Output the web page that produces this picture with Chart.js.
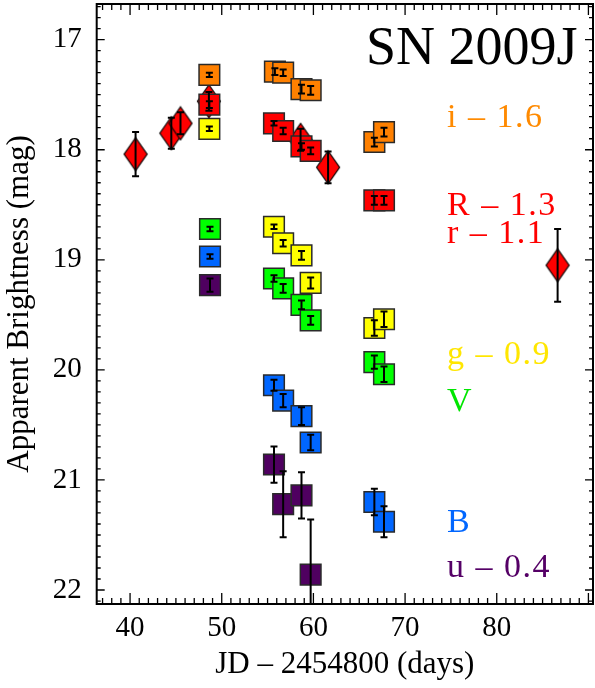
<!DOCTYPE html>
<html>
<head>
<meta charset="utf-8">
<script src="https://cdn.jsdelivr.net/npm/chart.js@4"></script>
<style>
  html, body { margin: 0; padding: 0; background: #fff; }
  #wrap { width: 595px; height: 688px; }
</style>
</head>
<body>
<div id="wrap"><canvas id="chart" width="595" height="688"></canvas></div>
<script>
// light curve of SN 2009J, magnitudes already shifted by the offsets in the labels
const jd_i = [48.65, 55.8, 56.7, 58.7, 59.7, 66.65, 67.7];
const mag_i = [17.32, 17.29, 17.30, 17.45, 17.46, 17.93, 17.84];
const err_i = [0.02, 0.03, 0.03, 0.04, 0.04, 0.04, 0.04];

const jd_R = [48.65, 55.7, 56.7, 58.7, 59.7, 66.65, 67.7];
const mag_R = [17.59, 17.76, 17.83, 17.97, 18.01, 18.46, 18.46];
const err_R = [0.03, 0.02, 0.03, 0.03, 0.03, 0.04, 0.04];

const jd_r = [40.6, 44.5, 45.5, 48.6, 58.6, 61.6, 86.64];
const mag_r = [18.04, 17.85, 17.76, 17.56, 17.91, 18.16, 19.05];
const err_r = [0.2, 0.14, 0.1, 0.085, 0.1, 0.145, 0.33];

const jd_g = [48.65, 55.7, 56.7, 58.7, 59.7, 66.65, 67.7];
const mag_g = [17.81, 18.70, 18.85, 18.96, 19.21, 19.62, 19.54];
const err_g = [0.02, 0.02, 0.03, 0.04, 0.05, 0.07, 0.07];

const jd_V = [48.72, 55.7, 56.7, 58.7, 59.7, 66.65, 67.7];
const mag_V = [18.72, 19.17, 19.26, 19.41, 19.55, 19.93, 20.04];
const err_V = [0.02, 0.03, 0.04, 0.04, 0.04, 0.06, 0.07];

const jd_B = [48.72, 55.7, 56.7, 58.7, 59.7, 66.65, 67.7];
const mag_B = [18.97, 20.14, 20.28, 20.42, 20.66, 21.20, 21.38];
const err_B = [0.02, 0.05, 0.06, 0.08, 0.07, 0.12, 0.14];

const jd_u = [48.72, 55.7, 56.7, 58.7, 59.7];
const mag_u = [19.23, 20.86, 21.22, 21.14, 21.86];
const err_u = [0.06, 0.165, 0.3, 0.21, 0.5];

const xTicks = [40, 50, 60, 70, 80];
const yTicks = [17, 18, 19, 20, 21, 22];

const serif = "'Liberation Serif', 'DejaVu Serif', serif";

function pts(xs, ys) {
  return xs.map((v, i) => ({ x: v, y: ys[i] }));
}

// tall red diamond marker
function diamond(color) {
  const c = document.createElement('canvas');
  c.width = 26; c.height = 36;
  const g = c.getContext('2d');
  g.beginPath();
  g.moveTo(13, 1.5); g.lineTo(24.5, 18); g.lineTo(13, 34.5); g.lineTo(1.5, 18);
  g.closePath();
  g.fillStyle = color; g.fill();
  g.strokeStyle = '#000'; g.lineWidth = 1.2; g.stroke();
  return c;
}

function squares(xs, ys, errs, color) {
  return {
    data: pts(xs, ys), errors: errs,
    showLine: false, pointStyle: 'rect', pointRadius: 14.6,
    backgroundColor: color, borderColor: '#2a2a2a', borderWidth: 1.5
  };
}

// no extra room for the end labels, the frame fills the canvas
function noPad(s) {
  s.paddingTop = 0; s.paddingBottom = 0;
  s.paddingLeft = 0; s.paddingRight = 0;
}

const labels = [
  { text: 'SN 2009J', color: '#000', size: 54, x: 366, y: 64 },
  { text: 'i \u2013 1.6', color: '#ff8a00', size: 34, x: 447, y: 127 },
  { text: 'R \u2013 1.3', color: '#ff0000', size: 34, x: 447, y: 215 },
  { text: 'r \u2013 1.1', color: '#ff0000', size: 34, x: 447, y: 243 },
  { text: 'g \u2013 0.9', color: '#ffe600', size: 34, x: 447, y: 364 },
  { text: 'V', color: '#00e600', size: 34, x: 447, y: 411 },
  { text: 'B', color: '#0066ff', size: 34, x: 447, y: 532 },
  { text: 'u \u2013 0.4', color: '#550066', size: 34, x: 447, y: 577 }
];

const extras = {
  id: 'extras',
  afterDatasetsDraw(chart) {
    const { ctx, chartArea: a, scales: { x, y } } = chart;
    ctx.save();
    ctx.beginPath();
    ctx.rect(a.left, a.top, a.right - a.left, a.bottom - a.top);
    ctx.clip();
    // error bars
    ctx.strokeStyle = '#000';
    ctx.lineWidth = 2;
    chart.data.datasets.forEach(ds => {
      ds.data.forEach((p, i) => {
        const e = ds.errors[i];
        const px = x.getPixelForValue(p.x);
        const y1 = y.getPixelForValue(p.y - e);
        const y2 = y.getPixelForValue(p.y + e);
        ctx.beginPath();
        ctx.moveTo(px, y1); ctx.lineTo(px, y2);
        ctx.moveTo(px - 3.5, y1); ctx.lineTo(px + 3.5, y1);
        ctx.moveTo(px - 3.5, y2); ctx.lineTo(px + 3.5, y2);
        ctx.stroke();
      });
    });
    ctx.restore();

    // frame and inward ticks
    ctx.save();
    ctx.strokeStyle = '#000';
    ctx.lineWidth = 1.3;
    ctx.beginPath();
    for (let v = Math.ceil(x.min); v <= x.max; v++) {
      const px = x.getPixelForValue(v);
      const len = v % 10 === 0 ? 11 : 6;
      ctx.moveTo(px, a.bottom); ctx.lineTo(px, a.bottom - len);
      ctx.moveTo(px, a.top); ctx.lineTo(px, a.top + len);
    }
    for (let k = Math.ceil(y.min * 10); k <= y.max * 10; k++) {
      const py = y.getPixelForValue(k / 10);
      const len = k % 10 === 0 ? 8 : 4;
      ctx.moveTo(a.left, py); ctx.lineTo(a.left + len, py);
      ctx.moveTo(a.right, py); ctx.lineTo(a.right - len, py);
    }
    ctx.stroke();
    ctx.lineWidth = 2;
    ctx.strokeRect(a.left, a.top, a.right - a.left, a.bottom - a.top);

    // band labels
    ctx.textBaseline = 'alphabetic';
    ctx.textAlign = 'left';
    labels.forEach(l => {
      ctx.font = l.size + 'px ' + serif;
      ctx.fillStyle = l.color;
      ctx.letterSpacing = l.size < 40 ? '1.5px' : '0px';
      ctx.fillText(l.text, l.x, l.y);
    });
    ctx.restore();
  }
};

const datasets = [
  squares(jd_i, mag_i, err_i, '#ff8000'),
  squares(jd_R, mag_R, err_R, '#ff0000'),
  {
    data: pts(jd_r, mag_r), errors: err_r,
    showLine: false, pointStyle: diamond('#ff0000'), pointRadius: 14
  },
  squares(jd_g, mag_g, err_g, '#ffff00'),
  squares(jd_V, mag_V, err_V, '#00ff00'),
  squares(jd_B, mag_B, err_B, '#0066ff'),
  squares(jd_u, mag_u, err_u, '#4f0060')
];

new Chart(document.getElementById('chart'), {
  type: 'scatter',
  data: { datasets },
  plugins: [extras],
  options: {
    responsive: false,
    animation: false,
    events: [],
    layout: { autoPadding: false, padding: { top: 4, right: 2, left: 0, bottom: 0 } },
    plugins: { legend: { display: false }, tooltip: { enabled: false } },
    scales: {
      x: {
        type: 'linear', min: 36.36, max: 90.5,
        grid: { display: false, drawTicks: false },
        border: { display: false },
        afterBuildTicks: s => { s.ticks = xTicks.map(v => ({ value: v })); },
        afterFit: s => { s.height = 84; noPad(s); },
        ticks: { color: '#000', padding: 10, font: { family: serif, size: 29, lineHeight: 1 } },
        title: {
          display: true, text: 'JD \u2013 2454800 (days)', color: '#000',
          font: { family: serif, size: 31, lineHeight: 1 }, padding: { top: 0, bottom: 8 }
        }
      },
      y: {
        type: 'linear', reverse: true, min: 16.676, max: 22.127,
        grid: { display: false, drawTicks: false },
        border: { display: false },
        afterBuildTicks: s => { s.ticks = yTicks.map(v => ({ value: v })); },
        afterFit: s => { s.width = 96.7; noPad(s); },
        ticks: { color: '#000', padding: 15, font: { family: serif, size: 29, lineHeight: 1 } },
        title: {
          display: true, text: 'Apparent Brightness (mag)', color: '#000',
          font: { family: serif, size: 31, lineHeight: 1 }, padding: { top: 4.5, bottom: 0 }
        }
      }
    }
  }
});
</script>
</body>
</html>
